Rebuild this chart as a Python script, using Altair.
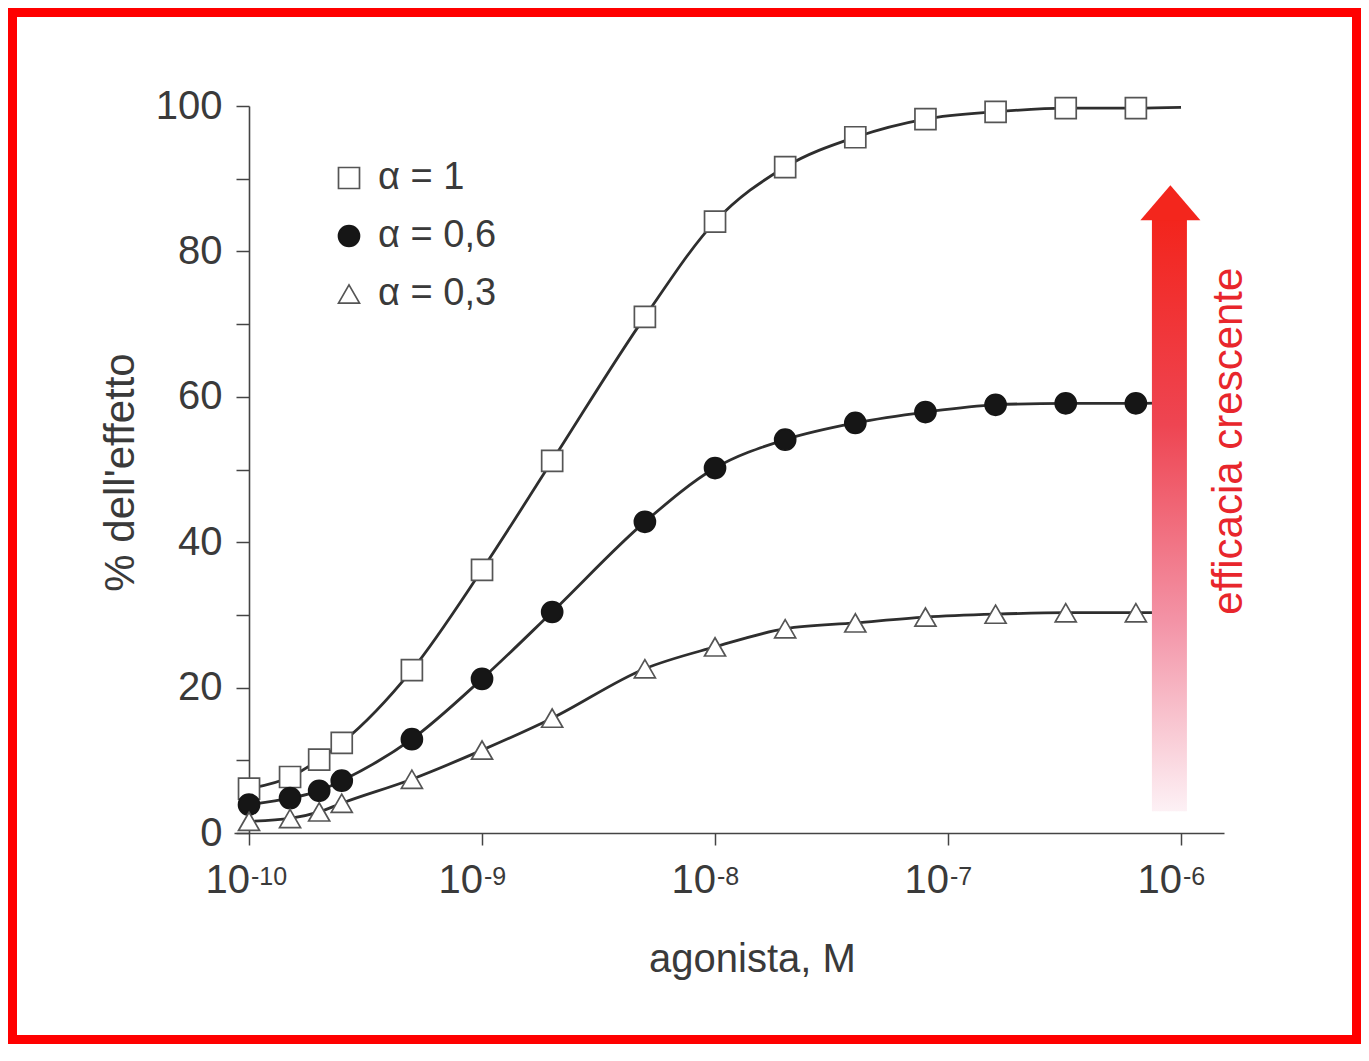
import altair as alt
import pandas as pd

# ---- data ----
conc = [1e-10, 1.5e-10, 2e-10, 2.5e-10, 5e-10, 1e-9, 2e-9, 5e-9,
        1e-8, 2e-8, 4e-8, 8e-8, 1.6e-7, 3.2e-7, 6.4e-7]
alpha_1 = [6.1, 7.7, 10.1, 12.4, 22.4, 36.2, 51.2, 71.0, 84.1, 91.6, 95.7, 98.2, 99.2, 99.7, 99.7]
alpha_06 = [3.9, 4.8, 5.8, 7.2, 12.9, 21.2, 30.4, 42.8, 50.2, 54.1, 56.4, 57.9, 58.9, 59.1, 59.1]
alpha_03 = [1.6, 2.0, 2.9, 4.1, 7.4, 11.4, 15.8, 22.6, 25.6, 28.1, 28.9, 29.7, 30.1, 30.3, 30.3]
series_names = ["α = 1", "α = 0,6", "α = 0,3"]
line_end_conc = 1e-6
line_end_vals = [99.8, 59.2, 30.3]

decades = [1e-10, 1e-9, 1e-8, 1e-7, 1e-6]
decade_exp = ["-10", "-9", "-8", "-7", "-6"]
y_ticks = [0, 10, 20, 30, 40, 50, 60, 70, 80, 90, 100]

arrow_x = [7.5e-7, 1.06e-6]
arrow_center_x = 9.0e-7
arrow_y = [3.0, 84.8]
arrow_head_y = 86.7
arrow_text = "efficacia crescente"
arrow_text_pos = (1.6e-6, 53.9)

# ---- tables ----
rows, lrows = [], []
for name, vals, endv in zip(series_names, [alpha_1, alpha_06, alpha_03], line_end_vals):
    for c, v in zip(conc, vals):
        rows.append({"series": name, "conc": c, "val": v})
        lrows.append({"series": name, "conc": c, "val": v})
    lrows.append({"series": name, "conc": line_end_conc, "val": endv})
pts = pd.DataFrame(rows)
lines = pd.DataFrame(lrows)
ticks_df = pd.DataFrame({"conc": decades, "exp": decade_exp})

FONT = "Liberation Sans"
TXT = "#3a3a3a"
RED = "#f3261d"

xscale = alt.Scale(type="log", domain=[8.62e-11, 1.529e-6], nice=False)
yscale = alt.Scale(domain=[0, 100], nice=False)

x_enc = alt.X("conc:Q", scale=xscale,
              axis=alt.Axis(values=decades, labels=False, tickSize=12, grid=False,
                            title="agonista, M", titleFontSize=40, titleFont=FONT,
                            titleFontWeight="normal", titleColor=TXT,
                            titleX=518, titleY=126, titleBaseline="middle",
                            titleAlign="center"))
y_enc = alt.Y("val:Q", scale=yscale,
              axis=alt.Axis(values=y_ticks, offset=-15, tickSize=13, grid=False,
                            labelExpr="datum.value % 20 == 0 ? datum.label : ''",
                            labelFontSize=40, labelFont=FONT, labelColor=TXT,
                            labelPadding=14,
                            title="% dell'effetto", titleFontSize=42, titleFont=FONT,
                            titleFontWeight="normal", titleColor=TXT,
                            titleAngle=270, titleX=-129, titleY=366,
                            titleBaseline="middle", titleAlign="center"))

line_layer = alt.Chart(lines).mark_line(
    interpolate="monotone", color="#2e2e2e", strokeWidth=2.8
).encode(x=x_enc, y=y_enc, detail="series:N")

point_layer = alt.Chart(pts).mark_point(
    filled=True, size=441, strokeWidth=1.7, opacity=1
).encode(
    x="conc:Q", y="val:Q",
    shape=alt.Shape("series:N", scale=alt.Scale(domain=series_names,
                                                range=["square", "circle", "triangle-up"]),
                    title=None),
    fill=alt.Fill("series:N", scale=alt.Scale(domain=series_names,
                                              range=["#ffffff", "#161616", "#ffffff"]),
                  title=None),
    stroke=alt.Stroke("series:N", scale=alt.Scale(domain=series_names,
                                                  range=["#555555", "#161616", "#555555"]),
                      title=None),
)

arrow_df = pd.DataFrame({"x": [arrow_x[0]], "x2": [arrow_x[1]],
                         "y": [arrow_y[0]], "y2": [arrow_y[1]]})
shaft = alt.Chart(arrow_df).mark_rect(
    color=alt.Gradient(
        gradient="linear", x1=0, y1=0, x2=0, y2=1,
        stops=[alt.GradientStop(color="#f3241c", offset=0),
               alt.GradientStop(color="#ee4552", offset=0.35),
               alt.GradientStop(color="#f393a6", offset=0.68),
               alt.GradientStop(color="#fdf1f5", offset=1)])
).encode(x="x:Q", x2="x2:Q", y="y:Q", y2="y2:Q")

head_df = pd.DataFrame({"x": [arrow_center_x], "y": [arrow_head_y]})
head = alt.Chart(head_df).mark_point(
    shape="M 0 -0.583 L 1 0.583 L -1 0.583 Z", size=3600, filled=True,
    color=RED, opacity=1, strokeWidth=0
).encode(x="x:Q", y="y:Q")

txt_df = pd.DataFrame({"x": [arrow_text_pos[0]], "y": [arrow_text_pos[1]], "t": [arrow_text]})
arrow_label = alt.Chart(txt_df).mark_text(
    angle=270, fontSize=42, font=FONT, color="#e8262c", align="center", baseline="middle"
).encode(x="x:Q", y="y:Q", text="t:N")

base_lbl = alt.Chart(ticks_df).mark_text(
    text="10", fontSize=40, font=FONT, color=TXT, align="right", baseline="alphabetic", dx=1
).encode(x="conc:Q", y=alt.value(727 + 60))
exp_lbl = alt.Chart(ticks_df).mark_text(
    fontSize=25, font=FONT, color=TXT, align="left", baseline="alphabetic", dx=2
).encode(x="conc:Q", y=alt.value(727 + 52), text="exp:N")

frame = alt.Chart(pd.DataFrame({"a": [0]})).mark_rect(
    fill="transparent", stroke="#ff0000", strokeWidth=9
).encode(x=alt.value(-221.5), x2=alt.value(1122.5), y=alt.value(-93.5), y2=alt.value(933.5))

chart = alt.layer(
    line_layer, point_layer, shaft, head, arrow_label, base_lbl, exp_lbl, frame
).properties(
    width=990, height=727,
    autosize=alt.AutoSizeParams(type="none"),
    padding={"left": 226, "top": 98, "right": 137, "bottom": 211},
    background="white",
).configure_view(stroke=None).configure_axis(
    domainColor="#444444", domainWidth=1.6, tickColor="#444444", tickWidth=1.5,
).configure_legend(
    orient="none", legendX=96, legendY=53, padding=0,
    symbolSize=441, symbolStrokeWidth=1.7, labelFontSize=38, labelFont=FONT,
    labelColor=TXT, labelOffset=10, rowPadding=20, symbolOpacity=1,
)

chart.save("out.html", embed_options={"renderer": "svg", "actions": False})
